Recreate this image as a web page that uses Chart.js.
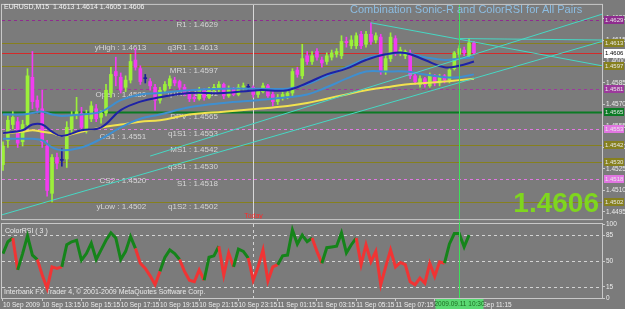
<!DOCTYPE html>
<html>
<head>
<meta charset="utf-8">
<script src="https://cdn.jsdelivr.net/npm/chart.js@4.4.1/dist/chart.umd.min.js"></script>
<style>
    body { margin: 0; background: #7b7b7b; }
    #wrap { position: relative; width: 625px; height: 309px; overflow: hidden; background: #7b7b7b; }
    #wrap canvas { position: absolute; left: 0; }
</style>
</head>
<body>
<div id="wrap">
    <canvas id="priceChart" width="625" height="224" style="top:0"></canvas>
    <canvas id="rsiChart" width="625" height="91" style="top:218px"></canvas>
</div>
<script>
/* ====== data (EURUSD M15, bar 0 = 10 Sep 2009 11:15) ====== */
const openP = [1.4528,1.4545,1.4556,1.4558,1.4544,1.4556,1.4589,1.4573,1.4567,1.4541,
    1.4508,1.4533,1.4531,1.4532,1.4553,1.4563,1.4564,1.4553,1.4560,1.4567,
    1.4561,1.4564,1.4578,1.4593,1.4589,1.4582,1.4587,1.4601,1.4595,1.4588,
    1.4586,1.4582,1.4573,1.4580,1.4583,1.4587,1.4586,1.4582,1.4578,1.4575,
    1.4574,1.4580,1.4575,1.4580,1.4581,1.4584,1.4576,1.4581,1.4577,1.4582,
    1.4582,1.4582,1.4577,1.4579,1.4583,1.4577,1.4572,1.4575,1.4576,1.4578,
    1.4594,1.4590,1.4604,1.4600,1.4607,1.4601,1.4600,1.4603,1.4605,1.4604,
    1.4614,1.4611,1.4611,1.4619,1.4612,1.4619,1.4615,1.4617,1.4593,1.4602,
    1.4616,1.4606,1.4604,1.4606,1.4590,1.4584,1.4588,1.4583,1.4589,1.4585,
    1.4590,1.4587,1.4595,1.4605,1.4608,1.4604,1.4613];
const highP = [1.4544,1.4562,1.4565,1.4561,1.4559,1.4595,1.4607,1.4576,1.4580,1.4545,
    1.4535,1.4536,1.4539,1.4558,1.4565,1.4575,1.4568,1.4566,1.4572,1.4570,
    1.4566,1.4584,1.4596,1.4603,1.4592,1.4590,1.4605,1.4609,1.4597,1.4591,
    1.4588,1.4584,1.4582,1.4586,1.4590,1.4589,1.4587,1.4584,1.4580,1.4577,
    1.4582,1.4581,1.4582,1.4584,1.4586,1.4585,1.4583,1.4582,1.4584,1.4585,
    1.4584,1.4583,1.4581,1.4585,1.4584,1.4579,1.4577,1.4579,1.4580,1.4595,
    1.4596,1.4612,1.4607,1.4607,1.4609,1.4603,1.4606,1.4608,1.4609,1.4618,
    1.4617,1.4618,1.4620,1.4621,1.4621,1.4627,1.4620,1.4619,1.4604,1.4620,
    1.4618,1.4610,1.4608,1.4608,1.4592,1.4590,1.4589,1.4592,1.4591,1.4591,
    1.4591,1.4596,1.4607,1.4611,1.4610,1.4616,1.4614];
const lowP = [1.4524,1.4540,1.4553,1.4540,1.4541,1.4553,1.4567,1.4564,1.4540,1.4506,
    1.4502,1.4525,1.4527,1.4526,1.4550,1.4560,1.4551,1.4550,1.4558,1.4558,
    1.4557,1.4562,1.4575,1.4583,1.4578,1.4579,1.4585,1.4594,1.4584,1.4585,
    1.4580,1.4566,1.4571,1.4578,1.4581,1.4583,1.4580,1.4576,1.4572,1.4572,
    1.4573,1.4573,1.4574,1.4578,1.4579,1.4574,1.4575,1.4576,1.4576,1.4580,
    1.4580,1.4575,1.4575,1.4578,1.4575,1.4569,1.4570,1.4573,1.4574,1.4576,
    1.4589,1.4588,1.4598,1.4598,1.4601,1.4596,1.4598,1.4601,1.4603,1.4602,
    1.4610,1.4609,1.4609,1.4609,1.4610,1.4612,1.4613,1.4591,1.4591,1.4600,
    1.4604,1.4604,1.4602,1.4588,1.4584,1.4582,1.4582,1.4582,1.4583,1.4583,
    1.4585,1.4585,1.4594,1.4603,1.4604,1.4603,1.4605];
const closeP = [1.4541,1.4559,1.4561,1.4543,1.4556,1.4590,1.4572,1.4568,1.4544,1.4510,
    1.4533,1.4529,1.4531,1.4554,1.4562,1.4565,1.4554,1.4563,1.4569,1.4560,
    1.4564,1.4580,1.4591,1.4590,1.4580,1.4587,1.4600,1.4596,1.4586,1.4588,
    1.4583,1.4573,1.4580,1.4584,1.4588,1.4585,1.4582,1.4578,1.4574,1.4574,
    1.4580,1.4575,1.4580,1.4582,1.4584,1.4576,1.4581,1.4577,1.4582,1.4583,
    1.4582,1.4577,1.4580,1.4583,1.4576,1.4572,1.4575,1.4577,1.4578,1.4593,
    1.4591,1.4602,1.4600,1.4604,1.4603,1.4599,1.4604,1.4606,1.4607,1.4614,
    1.4613,1.4615,1.4618,1.4611,1.4619,1.4614,1.4618,1.4593,1.4602,1.4617,
    1.4606,1.4608,1.4607,1.4590,1.4586,1.4588,1.4584,1.4590,1.4585,1.4589,
    1.4587,1.4594,1.4606,1.4609,1.4606,1.4613,1.4606];

// moving averages, read at these bar numbers
const maIdx    = [0,4,6,8,10,12,16,20,24,28,32,38,45,52,58,62,66,70,74,78,82,86,90,93,96];
const emaClose = [1.4550,1.4552,1.4556,1.4556,1.4551,1.4548,1.4552,1.4554,1.4566,1.4572,1.4575,1.4578,1.4578,
    1.4580,1.4580,1.4585,1.4591,1.4595,1.4601,1.4605,1.4606,1.4601,1.4596,1.4597,1.4600];
const emaHigh  = [1.4563,1.4563,1.4564,1.4565,1.4563,1.4562,1.4563,1.4565,1.4573,1.4577,1.4578,1.4580,1.4581,
    1.4581,1.4581,1.4584,1.4590,1.4596,1.4602,1.4605,1.4606,1.4603,1.4601,1.4602,1.4603];
const emaLow   = [1.4546,1.4546,1.4546,1.4545,1.4540,1.4538,1.4540,1.4546,1.4554,1.4560,1.4563,1.4568,1.4571,
    1.4573,1.4575,1.4577,1.4582,1.4588,1.4593,1.4593,1.4593,1.4591,1.4589,1.4589,1.4591];
const ema89    = [1.4550,1.4551,1.4552,1.4551,1.4550,1.4548,1.4551,1.4554,1.4556,1.4558,1.4559,1.4563,1.4565,
    1.4567,1.4569,1.4571,1.4574,1.4577,1.4580,1.4582,1.4584,1.4585,1.4586,1.4587,1.4588];

// trend lines: [bar, price] -> [bar, price]
const trendFrom = [[-0.2, 1.4493], [30, 1.4534], [75, 1.4627], [93, 1.4616]];
const trendTo   = [[122.1, 1.4614], [122.1, 1.4633], [122.1, 1.4597], [122.1, 1.4615]];

// pivot levels
const levelNames  = ["R1", "q3R1", "MR1", "q1R1", "DPV", "q1S1", "MS1", "q3S1", "S1", "q1S2"];
const levelValues = [1.4629, 1.4613, 1.4597, 1.4581, 1.4565, 1.4553, 1.4542, 1.4530, 1.4518, 1.4502];
const sideNames   = ["yHigh", "Open", "CS1", "CS2", "yLow"];
const sideValues  = [1.4613, 1.4580, 1.4551, 1.4520, 1.4502];

const rsiValues = [60,76,81,38,60,84,58,52,31,13,
    42,40,42,72,76,78,51,60,74,52,
    65,78,88,81,52,63,83,67,47,40,
    30,18,36,55,65,60,52,36,24,22,
    38,24,55,57,70,31,61,42,66,63,
    54,24,42,65,23,42,45,57,58,92,
    73,85,76,81,63,47,68,69,70,88,
    61,72,81,45,72,49,63,18,42,65,
    42,48,45,22,18,27,20,47,29,49,
    47,73,87,87,69,85];
// 1 = green colour state of ColorRSI, 0 = red
const rsiUp = [1,1,0,1,1,1,1,0,0,0, 0,0,1,1,1,1,1,1,1,1, 1,1,1,1,1,1,1,0,0,0,
    0,0,1,1,1,1,0,0,0,0, 0,1,1,1,0,0,0,1,1,1, 0,0,0,0,0,0,1,1,1,1,
    1,1,1,0,0,1,1,1,1,1, 1,1,0,0,0,0,0,0,0,0, 0,0,0,0,0,0,0,0,0,0, 1,1,1,1,1,1];
const rsiLevels = [15, 50, 85];

const priceTicks  = [1.4495, 1.4510, 1.4525, 1.4540, 1.4555, 1.4570, 1.4585, 1.4600, 1.4615, 1.4630];
const rsiTicks    = [0, 15, 50, 85, 100];
const timeTickIdx = [0, 8, 16, 24, 32, 40, 48, 56, 64, 72, 80, 88, 96];
const timeLabels  = ["10 Sep 2009", "10 Sep 13:15", "10 Sep 15:15", "10 Sep 17:15", "10 Sep 19:15",
    "10 Sep 21:15", "10 Sep 23:15", "11 Sep 01:15", "11 Sep 03:15", "11 Sep 05:15", "11 Sep 07:15",
    "11 Sep 09:15", "11 Sep 11:15"];
const daySeparator = 51;   // 11 Sep 00:00
const cursorBar = 93;      // 11 Sep 10:30
const cursorLabel = "2009.09.11 10:30";

/* ====== styles ====== */
const FONT = "'Liberation Sans', Arial, Helvetica, sans-serif";
Chart.defaults.font.family = FONT;
const UP = "#9cf03a", DOWN = "#f23cf0", DOJI = "#1c1c9a";
const RSI_UP = "#15841a", RSI_DOWN = "#f03434";
const FRAME = "#c8c8c8";
const OLIVE = "#86801e";
const levelStyle = {
    R1:   { color: "#8e2c8e", dash: [3, 3] },
    q3R1: { color: OLIVE, dash: [] },
    MR1:  { color: OLIVE, dash: [] },
    q1R1: { color: "#9c3a9c", dash: [3, 3] },
    DPV:  { color: "#0b7a24", dash: [], width: 2 },
    q1S1: { color: "#e276e2", dash: [3, 3] },
    MS1:  { color: OLIVE, dash: [] },
    q3S1: { color: OLIVE, dash: [] },
    S1:   { color: "#e276e2", dash: [3, 3] },
    q1S2: { color: OLIVE, dash: [] },
};
const X_MIN = -0.2, X_MAX = 122.1;

const barColor = (i) => (closeP[i] > openP[i] ? UP : closeP[i] < openP[i] ? DOWN : DOJI);

function lineSet(label, values, color, width, order) {
    return {
        type: "line",
        label,
        data: maIdx.map((x, k) => ({ x, y: values[k] })),
        borderColor: color,
        borderWidth: width,
        pointRadius: 0,
        tension: 0.4,
        order,
    };
}

function clipArea(ctx, a) {
    ctx.beginPath();
    ctx.rect(a.left, a.top, a.right - a.left, a.bottom - a.top);
    ctx.clip();
}

/* ====== price panel ====== */
const priceDecor = {
    id: "priceDecor",
    beforeDatasetsDraw(chart) {
        const { ctx, chartArea: a, scales: { x, y } } = chart;
        ctx.save();
        clipArea(ctx, a);

        levelNames.forEach((name, k) => {
            const st = levelStyle[name];
            const py = Math.round(y.getPixelForValue(levelValues[k])) + 0.5;
            ctx.strokeStyle = st.color;
            ctx.lineWidth = st.width || 1;
            ctx.setLineDash(st.dash);
            ctx.beginPath();
            ctx.moveTo(a.left, py);
            ctx.lineTo(a.right, py);
            ctx.stroke();
        });
        ctx.setLineDash([]);

        // bid line
        const bidY = Math.round(y.getPixelForValue(closeP[closeP.length - 1])) + 0.5;
        ctx.strokeStyle = "#d42a2a";
        ctx.lineWidth = 1;
        ctx.beginPath();
        ctx.moveTo(a.left, bidY);
        ctx.lineTo(a.right, bidY);
        ctx.stroke();

        // day separator
        const sx = Math.round(x.getPixelForValue(daySeparator)) + 0.5;
        ctx.strokeStyle = "#d8d8d8";
        ctx.beginPath();
        ctx.moveTo(sx, a.top);
        ctx.lineTo(sx, a.bottom);
        ctx.stroke();

        // level captions
        ctx.font = `8px ${FONT}`;
        ctx.fillStyle = "#d6d6d6";
        ctx.textBaseline = "top";
        ctx.textAlign = "right";
        const rightCol = x.getPixelForValue(43.8);
        levelNames.forEach((name, k) => {
            ctx.fillText(`${name} : ${levelValues[k].toFixed(4)}`, rightCol, y.getPixelForValue(levelValues[k]) + 1);
        });
        const leftCol = x.getPixelForValue(29.2);
        sideNames.forEach((name, k) => {
            ctx.fillText(`${name} : ${sideValues[k].toFixed(4)}`, leftCol, y.getPixelForValue(sideValues[k]) + 1);
        });

        // "Today"
        ctx.font = `7px ${FONT}`;
        ctx.fillStyle = "#ff2a2a";
        ctx.textAlign = "center";
        ctx.textBaseline = "bottom";
        ctx.fillText("Today", sx, a.bottom);
        ctx.restore();
    },
    afterDatasetsDraw(chart) {
        const { ctx, chartArea: a, scales: { x } } = chart;
        const cx = Math.round(x.getPixelForValue(cursorBar)) + 0.5;
        ctx.save();
        ctx.strokeStyle = "#3ee05a";
        ctx.lineWidth = 1;
        ctx.beginPath();
        ctx.moveTo(cx, a.top);
        ctx.lineTo(cx, a.bottom + 2);
        ctx.stroke();
        ctx.restore();
    },
    afterDraw(chart) {
        const { ctx, chartArea: a, scales: { y } } = chart;
        const last = closeP.length - 1;
        ctx.save();

        // frame
        ctx.strokeStyle = FRAME;
        ctx.lineWidth = 1;
        ctx.strokeRect(a.left - 0.5, a.top - 0.5, a.right - a.left + 1, a.bottom - a.top + 1);

        // header
        ctx.font = `7px ${FONT}`;
        ctx.fillStyle = "#f4f4f4";
        ctx.textAlign = "left";
        ctx.textBaseline = "middle";
        ctx.fillText(`EURUSD,M15  ${openP[last].toFixed(4)} ${highP[last].toFixed(4)} ${lowP[last].toFixed(4)} ${closeP[last].toFixed(4)}`, 4, 7);

        // title
        ctx.font = `11px ${FONT}`;
        ctx.fillStyle = "#8cbde2";
        ctx.fillText("Combination Sonic-R and ColorRSI for All Pairs", 350, 10);

        // big price
        ctx.font = `bold 28px ${FONT}`;
        ctx.fillStyle = "#7fd61e";
        ctx.textAlign = "right";
        ctx.fillText(closeP[last].toFixed(4), 599, 204);

        // price boxes on the axis
        ctx.font = `6px ${FONT}`;
        ctx.textAlign = "left";
        levelNames.forEach((name, k) => {
            const py = Math.round(y.getPixelForValue(levelValues[k]));
            ctx.fillStyle = levelStyle[name].color;
            ctx.fillRect(a.right + 2, py - 4, 20, 8);
            ctx.fillStyle = "#e8e8e8";
            ctx.fillText(levelValues[k].toFixed(4), a.right + 3, py);
        });
        const bidY = Math.round(y.getPixelForValue(closeP[last]));
        ctx.fillStyle = "#ffffff";
        ctx.fillRect(a.right + 2, bidY - 4, 21, 9);
        ctx.fillStyle = "#000000";
        ctx.fillText(closeP[last].toFixed(4), a.right + 3, bidY + 0.5);
        ctx.restore();
    },
};

const idx = openP.map((_, i) => i);
const colors = idx.map(barColor);

new Chart(document.getElementById("priceChart"), {
    type: "bar",
    data: {
        datasets: [
            { label: "wick", data: idx.map((i) => ({ x: i, y: [lowP[i], highP[i]] })), backgroundColor: colors, barThickness: 1, grouped: false, order: 20 },
            { label: "body", data: idx.map((i) => ({ x: i, y: [openP[i], closeP[i]] })), backgroundColor: colors, barThickness: 3, minBarLength: 1, grouped: false, order: 19 },
            lineSet("EMA89", ema89, "#f2e24e", 2, 6),
            lineSet("EMA34 low", emaLow, "#3f8fd0", 2, 5),
            lineSet("EMA34 high", emaHigh, "#3f8fd0", 2, 4),
            lineSet("EMA34 close", emaClose, "#1e22a6", 2, 3),
            ...trendFrom.map((p, k) => ({
                type: "line",
                label: `trend ${k}`,
                data: [{ x: p[0], y: p[1] }, { x: trendTo[k][0], y: trendTo[k][1] }],
                borderColor: "#46d8c4",
                borderWidth: 1,
                pointRadius: 0,
                order: 1,
            })),
        ],
    },
    options: {
        responsive: false,
        animation: false,
        events: [],
        layout: { padding: { left: 2, top: 3, bottom: 2, right: 0 } },
        plugins: { legend: { display: false }, tooltip: { enabled: false } },
        scales: {
            x: { type: "linear", min: X_MIN, max: X_MAX, offset: false, display: false },
            y: {
                position: "right",
                min: 1.4490,
                max: 1.46395,
                afterBuildTicks: (s) => { s.ticks = priceTicks.map((v) => ({ value: v })); },
                afterFit: (s) => { s.width = 23; },
                ticks: { font: { size: 6.5 }, color: "#ececec", padding: 1, callback: (v) => v.toFixed(4) },
                grid: { drawOnChartArea: false, tickLength: 3, color: FRAME },
                border: { color: FRAME },
            },
        },
    },
    plugins: [priceDecor],
});

/* ====== ColorRSI panel ====== */
const rsiDecor = {
    id: "rsiDecor",
    beforeDatasetsDraw(chart) {
        const { ctx, chartArea: a, scales: { x, y } } = chart;
        ctx.save();
        clipArea(ctx, a);
        ctx.strokeStyle = "#d4d4d4";
        ctx.lineWidth = 1;
        ctx.setLineDash([3, 3]);
        rsiLevels.forEach((v) => {
            const py = Math.round(y.getPixelForValue(v)) + 0.5;
            ctx.beginPath();
            ctx.moveTo(a.left, py);
            ctx.lineTo(a.right, py);
            ctx.stroke();
        });
        const sx = Math.round(x.getPixelForValue(daySeparator)) + 0.5;
        ctx.beginPath();
        ctx.moveTo(sx, a.top);
        ctx.lineTo(sx, a.bottom);
        ctx.stroke();
        ctx.setLineDash([]);

        ctx.font = `7px ${FONT}`;
        ctx.fillStyle = "#e8e8e8";
        ctx.textAlign = "left";
        ctx.textBaseline = "middle";
        ctx.fillText("ColorRSI ( 3 )", 5, a.top + 7);
        ctx.fillText("Interbank FX Trader 4, \u00a9 2001-2009 MetaQuotes Software Corp.", 4, a.bottom - 6);
        ctx.restore();
    },
    afterDraw(chart) {
        const { ctx, chartArea: a, scales: { x } } = chart;
        ctx.save();
        ctx.strokeStyle = FRAME;
        ctx.lineWidth = 1;
        ctx.strokeRect(a.left - 0.5, a.top - 0.5, a.right - a.left + 1, a.bottom - a.top + 1);

        const cx = Math.round(x.getPixelForValue(cursorBar)) + 0.5;
        ctx.strokeStyle = "#3ee05a";
        ctx.beginPath();
        ctx.moveTo(cx, a.top - 2);
        ctx.lineTo(cx, a.bottom);
        ctx.stroke();

        ctx.fillStyle = "#5ad872";
        ctx.fillRect(cx - 24, a.bottom + 1, 48, 10);
        ctx.font = `6.5px ${FONT}`;
        ctx.fillStyle = "#1d6b22";
        ctx.textAlign = "center";
        ctx.textBaseline = "middle";
        ctx.fillText(cursorLabel, cx, a.bottom + 6);
        ctx.restore();
    },
};

new Chart(document.getElementById("rsiChart"), {
    type: "line",
    data: {
        datasets: [{
            label: "ColorRSI",
            data: rsiValues.map((v, i) => ({ x: i, y: v })),
            borderColor: RSI_UP,
            borderWidth: 3,
            pointRadius: 0,
            tension: 0,
            segment: { borderColor: (c) => (rsiUp[c.p0DataIndex] ? RSI_UP : RSI_DOWN) },
        }],
    },
    options: {
        responsive: false,
        animation: false,
        events: [],
        layout: { padding: { left: 2, top: 6, bottom: 0, right: 0 } },
        plugins: { legend: { display: false }, tooltip: { enabled: false } },
        scales: {
            x: {
                type: "linear",
                min: X_MIN,
                max: X_MAX,
                offset: false,
                afterBuildTicks: (s) => { s.ticks = timeTickIdx.map((v) => ({ value: v })); },
                afterFit: (s) => { s.height = 11; },
                ticks: { autoSkip: false, maxRotation: 0, align: "start", padding: 0, font: { size: 6.5 }, color: "#ececec", callback: (v, k) => timeLabels[k] },
                grid: { drawOnChartArea: false, tickLength: 3, color: FRAME },
                border: { color: FRAME },
            },
            y: {
                position: "right",
                min: 0,
                max: 100,
                afterBuildTicks: (s) => { s.ticks = rsiTicks.map((v) => ({ value: v })); },
                afterFit: (s) => { s.width = 23; },
                ticks: { font: { size: 6.5 }, color: "#ececec", padding: 1 },
                grid: { drawOnChartArea: false, tickLength: 3, color: FRAME },
                border: { color: FRAME },
            },
        },
    },
    plugins: [rsiDecor],
});
</script>
</body>
</html>
